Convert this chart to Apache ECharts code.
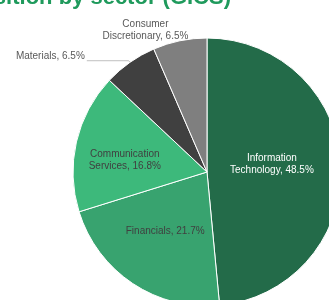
<!DOCTYPE html>
<html>
<head>
<meta charset="utf-8">
<script src="https://cdn.jsdelivr.net/npm/echarts@6/dist/echarts.min.js"></script>
<style>
  html, body { margin: 0; padding: 0; background: #fff; }
  #chart { width: 329px; height: 300px; }
</style>
</head>
<body>
<div id="chart"></div>
<script>
const sectors = ['Information\nTechnology', 'Financials', 'Communication\nServices', 'Materials', 'Consumer\nDiscretionary']
const weights = [48.5, 21.7, 16.8, 6.5, 6.5]
const colors = ['#236b49', '#38a36f', '#3db97b', '#404040', '#7f7f7f']

const chart = echarts.init(document.getElementById('chart'))

const inside = { position: 'inside', fontSize: 10, lineHeight: 12 }
const labelStyles = [
  { ...inside, color: '#ffffff', offset: [-5, -4] },
  { ...inside, color: '#404040', offset: [-3, 1] },
  { ...inside, color: '#404040', offset: [-14, 4] },
  { position: 'outside', fontSize: 10, color: '#595959', offset: [3, -4] },
  { position: 'outside', fontSize: 10, lineHeight: 12, color: '#595959', offset: [15, -9] },
]

const data = sectors.map((name, i) => ({
  name,
  value: weights[i],
  itemStyle: { color: colors[i] },
  label: labelStyles[i],
  labelLine: i === 3
    ? { show: true, length: 2, length2: 42, lineStyle: { color: '#bfbfbf', width: 1 } }
    : { show: i === 4, length: 2, length2: 0, lineStyle: { color: '#bfbfbf', width: 0 } },
}))

chart.setOption({
  animation: false,
  graphic: [{
    type: 'text',
    x: 231,
    y: -13,
    style: {
      text: 'Composition by sector (GICS)',
      font: 'bold 22px Arial, "Liberation Sans", sans-serif',
      fill: '#1f9a5c',
      align: 'right',
      verticalAlign: 'top',
    },
  }],
  series: [{
    type: 'pie',
    center: [207, 172],
    radius: 134,
    startAngle: 90,
    clockwise: true,
    avoidLabelOverlap: false,
    itemStyle: { borderColor: '#ffffff', borderWidth: 1 },
    label: {
      fontFamily: 'Arial, "Liberation Sans", sans-serif',
      formatter: p => `${p.name}, ${p.value.toFixed(1)}%`,
    },
    // centre the two-line consumer label like the source chart
    labelLayout: p => (p.dataIndex === 4 ? { align: 'center', dx: -44 } : {}),
    data,
  }],
})
</script>
</body>
</html>
